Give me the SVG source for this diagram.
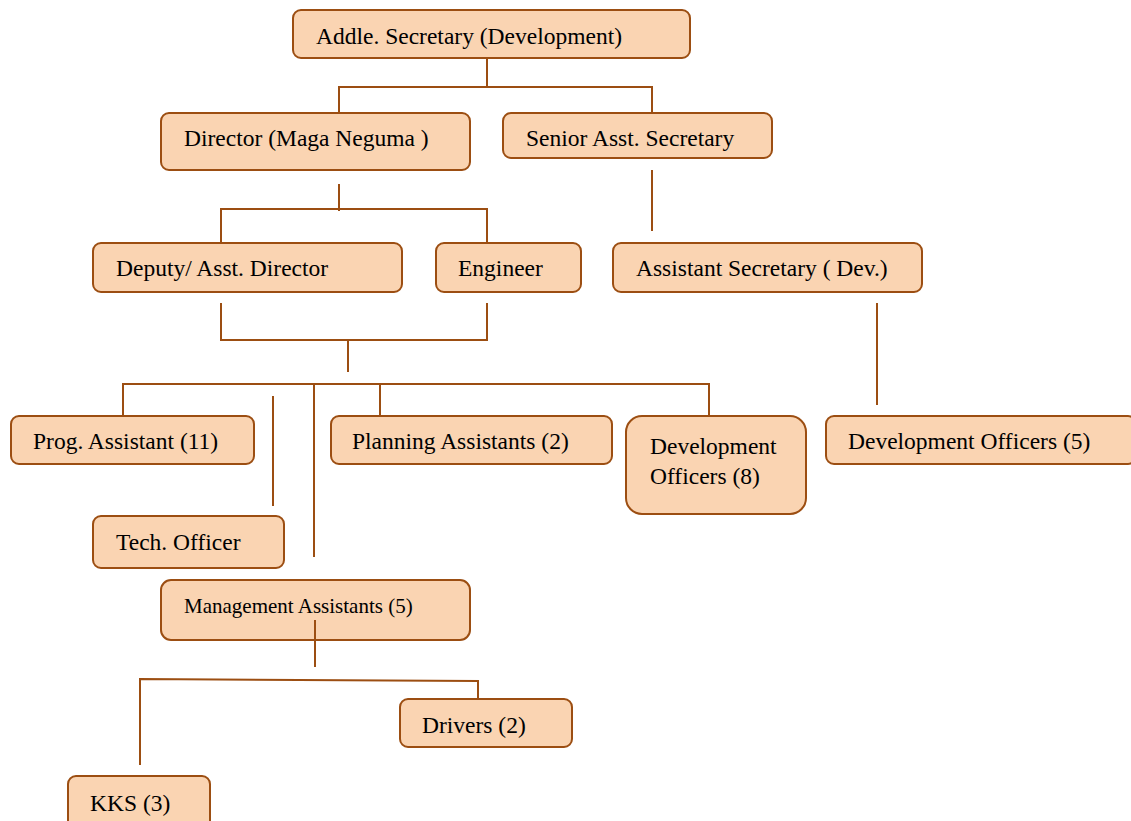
<svg xmlns="http://www.w3.org/2000/svg" width="1131" height="821" viewBox="0 0 1131 821">
<style>
.box{fill:#FAD4B2;stroke:#9C4E12;stroke-width:2}
.t{font-family:"Liberation Serif","Times New Roman",serif;font-size:23.5px;fill:#000}
.s{font-size:21px}
.c{fill:none;stroke:#9C4E12;stroke-width:2}
</style>
<rect width="1131" height="821" fill="#fff"/>
<g id="n-addle"><rect class="box" x="293" y="10" width="397" height="48" rx="8"/><text class="t" x="316" y="44">Addle. Secretary (Development)</text></g>
<g id="n-director"><rect class="box" x="161" y="113" width="309" height="57" rx="8"/><text class="t" x="184" y="146">Director (Maga Neguma )</text></g>
<g id="n-senior"><rect class="box" x="503" y="113" width="269" height="45" rx="8"/><text class="t" x="526" y="146">Senior Asst. Secretary</text></g>
<g id="n-deputy"><rect class="box" x="93" y="243" width="309" height="49" rx="8"/><text class="t" x="116" y="276">Deputy/ Asst. Director</text></g>
<g id="n-engineer"><rect class="box" x="436" y="243" width="145" height="49" rx="8"/><text class="t" x="458" y="276">Engineer</text></g>
<g id="n-asstsec"><rect class="box" x="613" y="243" width="309" height="49" rx="8"/><text class="t" x="636" y="276">Assistant Secretary ( Dev.)</text></g>
<g id="n-prog"><rect class="box" x="11" y="416" width="243" height="48" rx="8"/><text class="t" x="33" y="449">Prog. Assistant (11)</text></g>
<g id="n-planning"><rect class="box" x="331" y="416" width="281" height="48" rx="8"/><text class="t" x="352" y="449">Planning Assistants (2)</text></g>
<g id="n-devoff8"><rect class="box" x="626" y="416" width="180" height="98" rx="16"/><text class="t" x="650" y="454">Development</text><text class="t" x="650" y="484">Officers (8)</text></g>
<g id="n-devoff5"><rect class="box" x="826" y="416" width="310" height="48" rx="8"/><text class="t" x="848" y="449">Development Officers (5)</text></g>
<g id="n-tech"><rect class="box" x="93" y="516" width="191" height="52" rx="8"/><text class="t" x="116" y="550">Tech. Officer</text></g>
<g id="n-mgmt"><rect class="box" x="161" y="580" width="309" height="60" rx="10"/><text class="t s" x="184" y="613">Management Assistants (5)</text></g>
<g id="n-drivers"><rect class="box" x="400" y="699" width="172" height="48" rx="8"/><text class="t" x="422" y="733">Drivers (2)</text></g>
<g id="n-kks"><rect class="box" x="68" y="776" width="142" height="55" rx="8"/><text class="t" x="90" y="811">KKS (3)</text></g>
<g id="connectors">
<path class="c" d="M487 58V87M339 113V87H652V113"/>
<path class="c" d="M339 184V211M221 243V209H487V243"/>
<path class="c" d="M652 170V231"/>
<path class="c" d="M221 303V340H487V303M348 340V372"/>
<path class="c" d="M123 416V384H709V416M380 384V416M314 384V557"/>
<path class="c" d="M273 396V506"/>
<path class="c" d="M877 303V405"/>
<path class="c" d="M315 620V667M140 765V679L478 681V699"/>
</g>
</svg>
